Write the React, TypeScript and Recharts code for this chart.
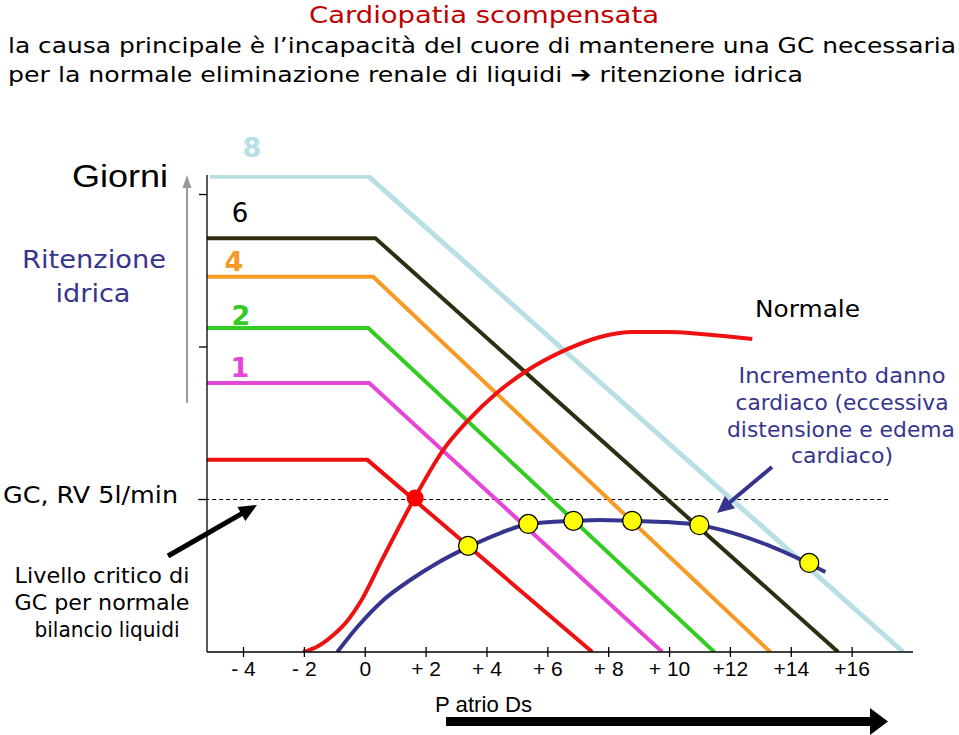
import { ComposedChart, Line, Scatter, XAxis, YAxis, ReferenceLine } from "recharts";

// asse P atrio Ds
const xTicks = [-4, -2, 0, 2, 4, 6, 8, 10, 12, 14, 16];
const xTickLabels = ["- 4", "- 2", "0", "+ 2", "+ 4", "+ 6", "+ 8", "+ 10", "+12", "+14", "+16"];
const yTicks = [5, 10, 15];
const gcCritico = 5;

// curve di ritorno venoso (giorni di ritenzione idrica)
const ritorno8 = [{ x: -5.1, y: 15.6 }, { x: 0.1, y: 15.6 }, { x: 17.68, y: 0 }];
const ritorno6 = [{ x: -5.2, y: 13.57 }, { x: 0.33, y: 13.57 }, { x: 15.54, y: 0 }];
const ritorno4 = [{ x: -5.2, y: 12.3 }, { x: 0.26, y: 12.3 }, { x: 13.31, y: 0 }];
const ritorno2 = [{ x: -5.2, y: 10.62 }, { x: 0.1, y: 10.62 }, { x: 11.47, y: 0 }];
const ritorno1 = [{ x: -5.2, y: 8.82 }, { x: 0.13, y: 8.82 }, { x: 9.76, y: 0 }];
const ritorno0 = [{ x: -5.2, y: 6.3 }, { x: 0.07, y: 6.3 }, { x: 7.46, y: 0 }];

// curva cardiaca normale
const cuoreNormale = [
  { x: -2.04, y: 0 }, { x: -1.54, y: 0.2 }, { x: -1.05, y: 0.56 }, { x: -0.59, y: 1.02 },
  { x: -0.16, y: 1.64 }, { x: 0.55, y: 3.02 }, { x: 1.64, y: 5.08 }, { x: 2.56, y: 6.62 },
  { x: 3.35, y: 7.56 }, { x: 4.33, y: 8.5 }, { x: 5.26, y: 9.19 }, { x: 6.64, y: 9.93 },
  { x: 7.72, y: 10.33 }, { x: 8.81, y: 10.49 }, { x: 9.92, y: 10.49 }, { x: 11.01, y: 10.43 },
  { x: 12.09, y: 10.33 }, { x: 12.72, y: 10.26 },
];

// curva cardiaca scompensata
const cuoreScompensato = [
  { x: -0.92, y: 0 }, { x: -0.26, y: 0.82 }, { x: 0.59, y: 1.7 }, { x: 1.48, y: 2.36 },
  { x: 2.37, y: 2.92 }, { x: 3.38, y: 3.44 }, { x: 4.44, y: 3.9 }, { x: 5.36, y: 4.2 },
  { x: 6.84, y: 4.3 }, { x: 7.72, y: 4.33 }, { x: 8.77, y: 4.3 }, { x: 9.92, y: 4.26 },
  { x: 10.98, y: 4.16 }, { x: 12.09, y: 3.9 }, { x: 13.21, y: 3.51 }, { x: 14.2, y: 3.08 },
  { x: 15.12, y: 2.62 },
];

const equilibri = [
  { x: 3.38, y: 3.48 }, { x: 5.36, y: 4.2 }, { x: 6.84, y: 4.3 },
  { x: 8.77, y: 4.3 }, { x: 10.98, y: 4.16 }, { x: 14.59, y: 2.92 },
];
const equilibrioNormale = [{ x: 1.64, y: 5.05 }];

const verdana = "'DejaVu Sans', Verdana, sans-serif";
const arial = "'Liberation Sans', Arial, sans-serif";
const navy = "#35358f";

const XTick = (props: any) => {
  const { x, y, payload } = props;
  const label = xTickLabels[xTicks.indexOf(payload.value)];
  return (
    <g>
      <line x1={x} x2={x} y1={y - 5} y2={y + 5} stroke="#000" strokeWidth={1.3} />
      <text x={x} y={y + 24} textAnchor="middle" fontFamily={arial} fontSize={21} fill="#000">
        {label}
      </text>
    </g>
  );
};

const yellowDot = (props: any) => (
  <circle cx={props.cx} cy={props.cy} r={9.5} fill="#ffff00" stroke="#000" strokeWidth={1.3} />
);
const redDot = (props: any) => <circle cx={props.cx} cy={props.cy} r={8.5} fill="#ff0000" />;

function Arrow({ x1, y1, x2, y2, color, width, head, half }: any) {
  const len = Math.hypot(x2 - x1, y2 - y1);
  const ux = (x2 - x1) / len;
  const uy = (y2 - y1) / len;
  const bx = x2 - ux * head;
  const by = y2 - uy * head;
  const pts = `${x2},${y2} ${bx - uy * half},${by + ux * half} ${bx + uy * half},${by - ux * half}`;
  return (
    <g>
      <line x1={x1} y1={y1} x2={bx + ux} y2={by + uy} stroke={color} strokeWidth={width} />
      <polygon points={pts} fill={color} />
    </g>
  );
}

function T({ x, y, w, size, anchor = "start", fill = "#000", family = verdana, weight = "normal", children }: any) {
  return (
    <text
      x={x}
      y={y}
      fontSize={size}
      textAnchor={anchor}
      fill={fill}
      fontFamily={family}
      fontWeight={weight}
      textLength={w}
      lengthAdjust="spacingAndGlyphs"
    >
      {children}
    </text>
  );
}

function Annotations() {
  return (
    <svg width={959} height={735} style={{ position: "absolute", left: 0, top: 0, pointerEvents: "none" }}>
      <T x={484} y={23} w={350} size={23} anchor="middle" fill="#c00000">Cardiopatia scompensata</T>
      <T x={8} y={53} w={948} size={22}>la causa principale è l’incapacità del cuore di mantenere una GC necessaria</T>
      <T x={8} y={82} w={795} size={22}>per la normale eliminazione renale di liquidi ➔ ritenzione idrica</T>

      <T x={168} y={187} w={96} size={31} anchor="end" family={arial}>Giorni</T>
      <T x={94} y={268} w={144} size={24} anchor="middle" fill={navy}>Ritenzione</T>
      <T x={93} y={302} w={75} size={24} anchor="middle" fill={navy}>idrica</T>
      <T x={3} y={503} w={175} size={23}>GC, RV 5l/min</T>
      <T x={102} y={583} w={175} size={21} anchor="middle">Livello critico di</T>
      <T x={102} y={610} w={175} size={21} anchor="middle">GC per normale</T>
      <T x={107} y={637} w={145} size={21} anchor="middle">bilancio liquidi</T>

      <T x={252} y={157} size={27} anchor="middle" fill="#b8dfe3" weight="bold">8</T>
      <T x={240} y={222} size={26} anchor="middle">6</T>
      <T x={234} y={271} size={27} anchor="middle" fill="#f59a23" weight="bold">4</T>
      <T x={241} y={325} size={27} anchor="middle" fill="#33cc22" weight="bold">2</T>
      <T x={240} y={377} size={27} anchor="middle" fill="#e646d6" weight="bold">1</T>

      <T x={755} y={317} w={105} size={23}>Normale</T>
      <T x={842} y={383} w={207} size={21} anchor="middle" fill={navy}>Incremento danno</T>
      <T x={842} y={410} w={213} size={21} anchor="middle" fill={navy}>cardiaco (eccessiva</T>
      <T x={841} y={437} w={228} size={21} anchor="middle" fill={navy}>distensione e edema</T>
      <T x={842} y={463} w={102} size={21} anchor="middle" fill={navy}>cardiaco)</T>

      <T x={435} y={712} w={97} size={22} family={arial}>P atrio Ds</T>

      <Arrow x1={187} y1={403} x2={187} y2={175} color="#9a9a9a" width={2} head={13} half={4.5} />
      <Arrow x1={168} y1={556} x2={257} y2={505} color="#000" width={5} head={18} half={8} />
      <Arrow x1={772} y1={467} x2={717} y2={513} color={navy} width={4} head={17} half={8} />
      <rect x={446} y={717} width={425} height={9} fill="#000" />
      <polygon points="870,708 888,721.5 870,735" fill="#000" />
    </svg>
  );
}

const lineProps = { type: "linear" as const, dataKey: "y", dot: false, activeDot: false, isAnimationActive: false };

export default function App() {
  return (
    <div style={{ position: "absolute", left: 0, top: 0, width: 959, height: 735, background: "#fff" }}>
      <ComposedChart width={959} height={735} margin={{ top: 175, right: 46, bottom: 53, left: 206 }}>
        <XAxis
          type="number"
          dataKey="x"
          domain={[-5.2, 18]}
          allowDataOverflow
          ticks={xTicks}
          tick={<XTick />}
          tickLine={false}
          tickSize={0}
          tickMargin={0}
          height={30}
          axisLine={{ stroke: "#000", strokeWidth: 1.3 }}
          interval={0}
        />
        <YAxis
          type="number"
          dataKey="y"
          domain={[0, 15.64]}
          allowDataOverflow
          ticks={yTicks}
          tickFormatter={() => ""}
          tickSize={8}
          width={1}
          tickLine={{ stroke: "#000", strokeWidth: 1.3 }}
          axisLine={{ stroke: "#000", strokeWidth: 1.3 }}
          interval={0}
        />
        <ReferenceLine
          segment={[{ x: -5.49, y: gcCritico }, { x: 17.22, y: gcCritico }]}
          stroke="#000"
          strokeWidth={1}
          strokeDasharray="4 3"
          ifOverflow="visible"
        />
        <Line {...lineProps} data={ritorno8} stroke="#b8dfe3" strokeWidth={5} />
        <Line {...lineProps} data={ritorno6} stroke="#2f2d12" strokeWidth={4} />
        <Line {...lineProps} data={ritorno4} stroke="#f59a23" strokeWidth={4} />
        <Line {...lineProps} data={ritorno2} stroke="#33cc22" strokeWidth={4} />
        <Line {...lineProps} data={ritorno1} stroke="#e646d6" strokeWidth={4} />
        <Line {...lineProps} data={ritorno0} stroke="#ee1111" strokeWidth={4} />
        <Line {...lineProps} type="monotone" data={cuoreNormale} stroke="#ee1111" strokeWidth={4} />
        <Line {...lineProps} type="monotone" data={cuoreScompensato} stroke="#35358f" strokeWidth={4} />
        <Scatter data={equilibri} dataKey="y" shape={yellowDot} isAnimationActive={false} />
        <Scatter data={equilibrioNormale} dataKey="y" shape={redDot} isAnimationActive={false} />
      </ComposedChart>
      <Annotations />
    </div>
  );
}
